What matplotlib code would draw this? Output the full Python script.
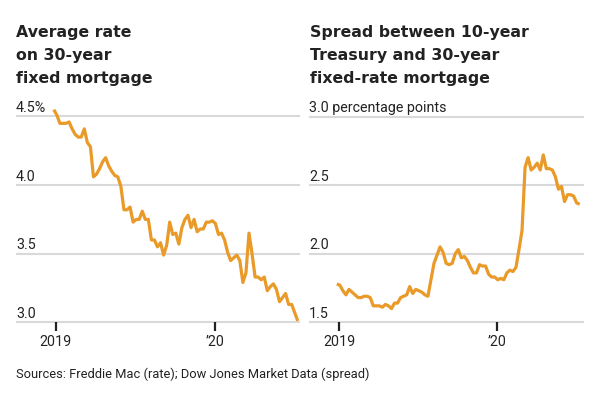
import matplotlib
matplotlib.use('Agg')
import matplotlib.pyplot as plt
import matplotlib.dates as mdates
import matplotlib.transforms as mtransforms
import pandas as pd
import datetime as dt

# ---- data ----
start_date = '2018-12-27'
n_weeks = 81
rate = [4.55,
        4.51, 4.45, 4.45, 4.45, 4.46, 4.41, 4.37, 4.35, 4.35, 4.41, 4.31, 4.28, 4.06,
        4.08, 4.12, 4.17, 4.20, 4.14, 4.10, 4.07, 4.06, 3.99, 3.82, 3.82, 3.84, 3.73,
        3.75, 3.75, 3.81, 3.75, 3.75, 3.60, 3.60, 3.55, 3.58, 3.49, 3.56, 3.73, 3.64,
        3.65, 3.57, 3.69, 3.75, 3.78, 3.69, 3.75, 3.66, 3.68, 3.68, 3.73, 3.73, 3.74,
        3.72, 3.64, 3.65, 3.60, 3.51, 3.45, 3.47, 3.49, 3.45, 3.29, 3.36, 3.65, 3.50,
        3.33, 3.33, 3.31, 3.33, 3.23, 3.26, 3.28, 3.24, 3.15, 3.18, 3.21, 3.13, 3.13,
        3.07, 3.01]
spread = [1.78, 1.77, 1.73, 1.70, 1.74, 1.72, 1.70, 1.68, 1.68, 1.69,
          1.69, 1.68, 1.62, 1.62, 1.62, 1.61, 1.63, 1.62, 1.60, 1.64,
          1.64, 1.68, 1.69, 1.70, 1.76, 1.71, 1.74, 1.73, 1.72, 1.70,
          1.69, 1.81, 1.93, 1.99, 2.05, 2.01, 1.93, 1.92, 1.93, 2.00,
          2.03, 1.97, 1.98, 1.95, 1.90, 1.86, 1.86, 1.92, 1.91, 1.91,
          1.85, 1.83, 1.83, 1.81, 1.82, 1.81, 1.86, 1.88, 1.87, 1.90,
          2.03, 2.17, 2.63, 2.70, 2.61, 2.63, 2.66, 2.61, 2.72, 2.62,
          2.62, 2.61, 2.56, 2.47, 2.49, 2.38, 2.43, 2.43, 2.42, 2.37,
          2.36]
left_yticks = [3.0, 3.5, 4.0, 4.5]
left_ylabels = ['3.0', '3.5', '4.0', '4.5%']
right_yticks = [1.5, 2.0, 2.5, 3.0]
right_ylabels = ['1.5', '2.0', '2.5', '3.0 percentage points']
xtick_dates = [dt.datetime(2019, 1, 1), dt.datetime(2020, 1, 1)]
xtick_labels = ['2019', '\u201920']
left_title = ['Average rate', 'on 30-year', 'fixed mortgage']
right_title = ['Spread between 10-year', 'Treasury and 30-year', 'fixed-rate mortgage']
source = 'Sources: Freddie Mac (rate); Dow Jones Market Data (spread)'

dates = pd.date_range(start_date, periods=n_weeks, freq='7D')

W, H = 592, 396
fig = plt.figure(figsize=(W / 100, H / 100), dpi=100)
fig.patch.set_facecolor('white')

LINE = '#E99A28'
GRID = '#d9d9d9'
TEXT = '#222222'
TFONT = 'DejaVu Sans'
LFONT = ['Roboto', 'DejaVu Sans']

y_bot = 322.3
y_top = 116.5


def make_panel(xl, xr, yticks, ylabels, values, ylim, left_days, right_days):
    ax = fig.add_axes([xl / W, (H - y_bot) / H, (xr - xl) / W, (y_bot - y_top) / H])
    ax.set_facecolor('none')
    for s in ax.spines.values():
        s.set_visible(False)
    base = mdates.date2num(dt.datetime(2019, 1, 1))
    ax.set_xlim(base - left_days, base + right_days)
    ax.set_ylim(*ylim)
    for v in yticks:
        ax.axhline(v, color=GRID, lw=1.5, zorder=1, clip_on=False)
    ax.plot(dates, values, color=LINE, lw=2.3, zorder=3, clip_on=False,
            solid_joinstyle='round', solid_capstyle='butt')
    ax.set_yticks([])
    ax.set_xticks(xtick_dates)
    ax.set_xticklabels(xtick_labels, fontsize=10.3, color=TEXT, family=LFONT)
    ax.tick_params(axis='x', length=6.5, width=1.6, color='#222222', pad=3, direction='out')
    trans = mtransforms.blended_transform_factory(ax.transAxes, ax.transData)
    off = mtransforms.ScaledTranslation(-1 / 100, 4.5 / 100, fig.dpi_scale_trans)
    for v, lab in zip(yticks, ylabels):
        ax.text(0, v, lab, transform=trans + off, ha='left', va='baseline',
                fontsize=10.3, color=TEXT, family=LFONT)
    return ax


make_panel(17, 299, left_yticks, left_ylabels, rate, (3.0, 4.5), 89.5, 557.8)
make_panel(310, 583, right_yticks, right_ylabels, spread, (1.5, 3.0), 66.9, 562.6)

for i, (lt, rt) in enumerate(zip(left_title, right_title)):
    yb = [36.5, 59.7, 82.9][i]
    fig.text(16 / W, 1 - yb / H, lt, ha='left', va='baseline', fontsize=11.3,
             fontweight='bold', color=TEXT, family=TFONT)
    fig.text(310 / W, 1 - yb / H, rt, ha='left', va='baseline', fontsize=11.3,
             fontweight='bold', color=TEXT, family=TFONT)

fig.text(16 / W, 1 - 377.7 / H, source, ha='left', va='baseline', fontsize=9.3,
         color=TEXT, family=LFONT)

fig.savefig('out.png', dpi=100, facecolor='white')
